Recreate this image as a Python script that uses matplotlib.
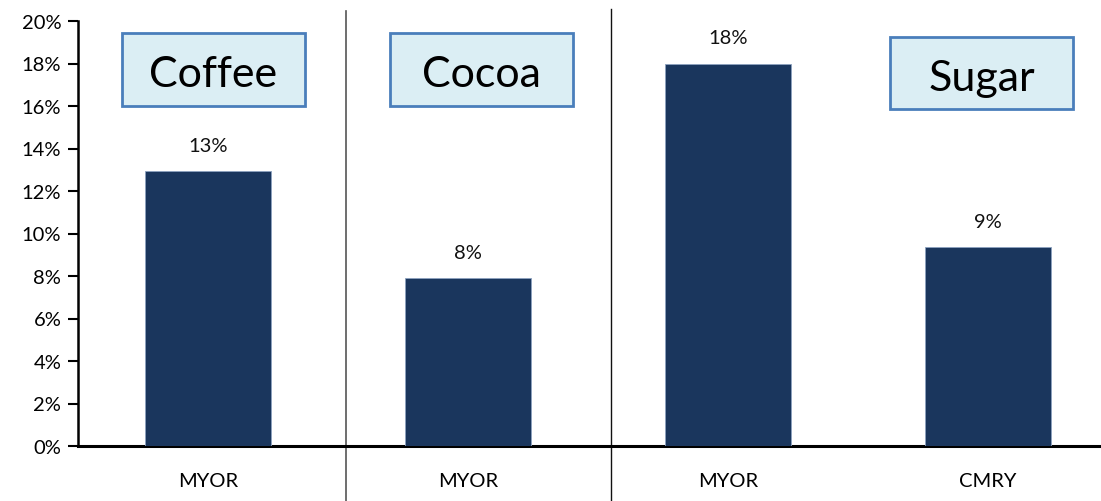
import matplotlib
matplotlib.use("Agg")
import matplotlib.pyplot as plt
from matplotlib.patches import Rectangle
from matplotlib.ticker import FuncFormatter, MultipleLocator

categories = ["MYOR", "MYOR", "MYOR", "CMRY"]
values = [12.95, 7.9, 18.0, 9.35]
value_labels = ["13%", "8%", "18%", "9%"]
groups = ["Coffee", "Cocoa", "Sugar"]

plt.rcParams['font.family'] = ['Lato', 'DejaVu Sans']

fig = plt.figure(figsize=(11.01, 5.02), dpi=100)
ax = fig.add_axes([78/1101, 1-447/502, 1040/1101, 425/502])

x = list(range(len(categories)))
ax.bar(x, values, width=0.485, color="#1A365D", edgecolor="#8DA2C0", linewidth=0.6, zorder=3)
for xi, v, lab in zip(x, values, value_labels):
    ax.annotate(lab, (xi, v), xytext=(0, 18.5), textcoords="offset points",
                ha="center", va="center", fontsize=14.5, color="#111111")

ax.set_xlim(-0.5, 3.5)
ax.set_ylim(0, 20)
ax.yaxis.set_major_locator(MultipleLocator(2))
ax.yaxis.set_major_formatter(FuncFormatter(lambda v, p: f"{v:.0f}%"))
ax.set_xticks(x)
ax.set_xticklabels(categories)
ax.tick_params(axis="x", length=0, pad=19, labelsize=14.5)
ax.tick_params(axis="y", direction="out", length=7, width=1.5, labelsize=14.5, pad=5)
for s in ["top", "right"]:
    ax.spines[s].set_visible(False)
ax.spines["left"].set_linewidth(1.8)
ax.spines["bottom"].set_linewidth(2.2)

# separators
ax.plot([0.531, 0.531], [-3, 20.47], color="#555555", lw=1.2, clip_on=False, zorder=1)
ax.plot([1.55, 1.55], [-3, 20.55], color="#111111", lw=1.0, clip_on=False, zorder=1)

# group boxes
boxes = [(-0.331, 0.373, 16.0, 19.44), (0.70, 1.404, 16.0, 19.44), (2.623, 3.327, 15.86, 19.25)]
for g, (x0, x1, y0, y1) in zip(groups, boxes):
    ax.add_patch(Rectangle((x0, y0), x1-x0, y1-y0, facecolor="#DBEEF4",
                           edgecolor="#4A7EBB", linewidth=2, zorder=4))
    ax.text((x0+x1)/2, (y0+y1)/2 - 0.22, g, ha="center", va="center", fontsize=31, zorder=5)

fig.savefig("out.png", dpi=100)
